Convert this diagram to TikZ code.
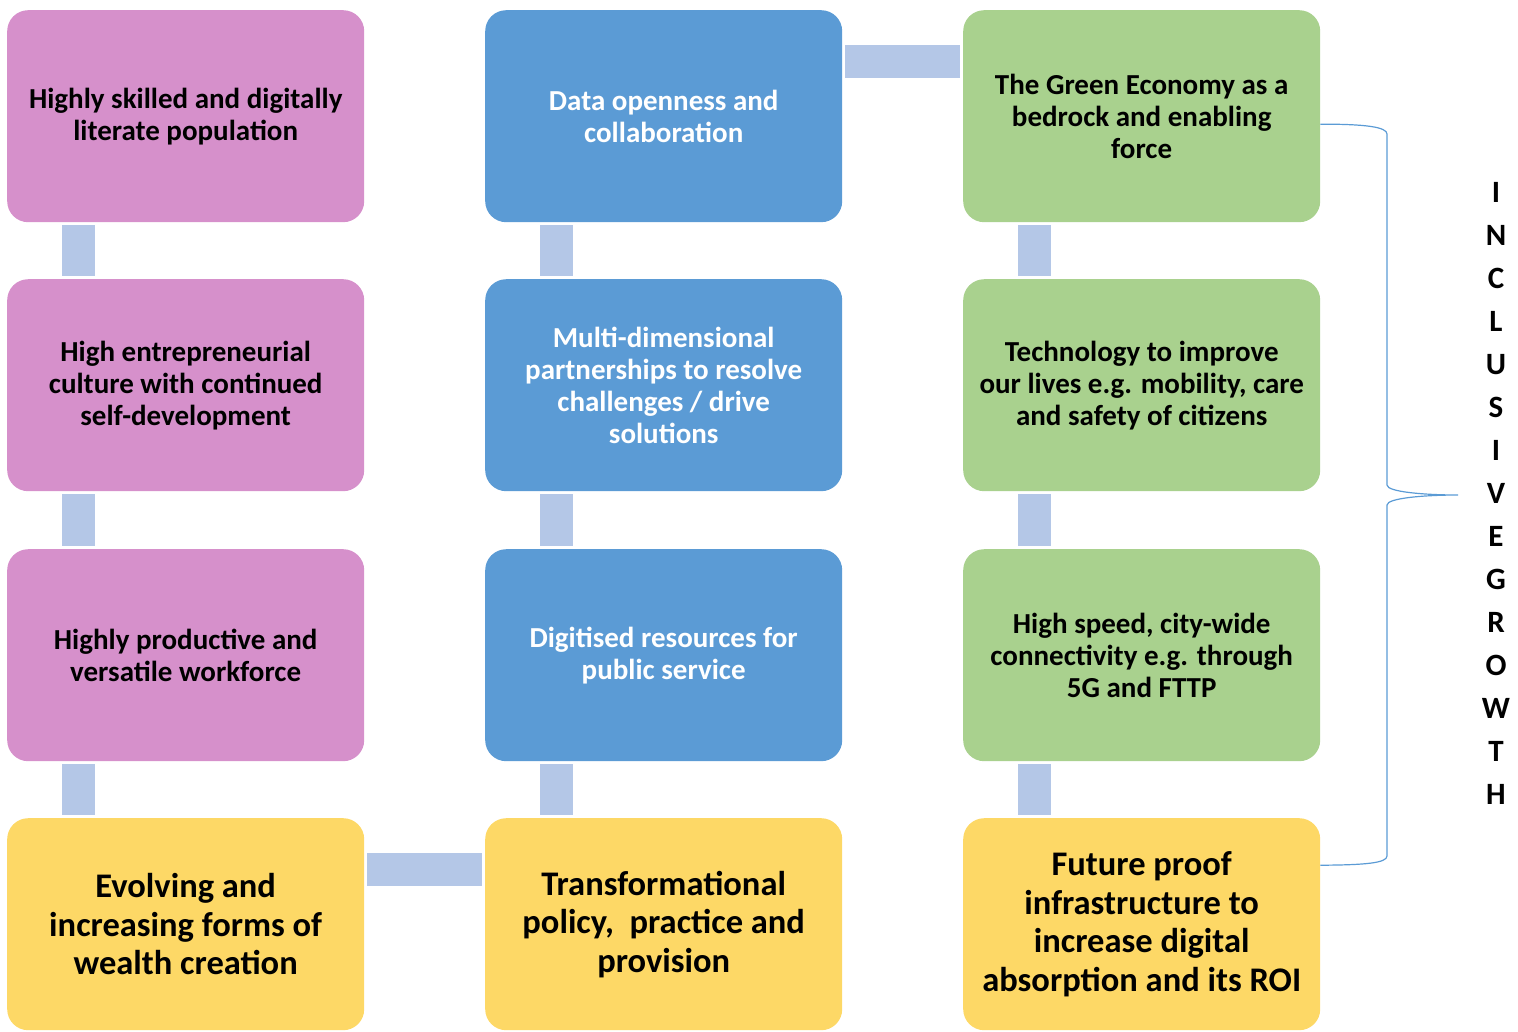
\documentclass[tikz,border=0pt]{standalone}
\usepackage{fontspec}
\setmainfont{Carlito}
\usetikzlibrary{calc}
\definecolor{pinkc}{HTML}{D690CB}
\definecolor{bluec}{HTML}{5B9BD5}
\definecolor{greenc}{HTML}{A9D18E}
\definecolor{yellowc}{HTML}{FDD866}
\definecolor{connc}{HTML}{B4C7E7}
\definecolor{bracec}{HTML}{5B9BD5}
\begin{document}
\begin{tikzpicture}[x=1pt,y=-1pt,
  box/.style={rounded corners=21pt, minimum width=357pt, minimum height=212pt,
    inner sep=0pt, align=center, anchor=north west,
    font=\fontsize{29}{32}\selectfont\bfseries},
  pinkbox/.style={box, fill=pinkc, text=black},
  bluebox/.style={box, fill=bluec, text=white},
  greenbox/.style={box, fill=greenc, text=black},
  yellowbox/.style={box, fill=yellowc, text=black, font=\fontsize{34.5}{38.5}\selectfont\bfseries},
  conn/.style={draw=connc, line width=33pt, shorten <=3pt, shorten >=3pt},
  bracel/.style={draw=bracec, line width=1.2pt}]
\useasboundingbox (0,0) rectangle (1518,1031);
% column 1
\node[pinkbox] (p1) at (7,10) {Highly skilled and digitally\\literate population};
\node[pinkbox] (p2) at (7,279) {High entrepreneurial\\culture with continued\\self-development};
\node[pinkbox] (p3) at (7,549) {Highly productive and\\versatile workforce};
\node[yellowbox] (y1) at (7,818) {Evolving and\\increasing forms of\\wealth creation};
% column 2
\node[bluebox] (b1) at (485,10) {Data openness and\\collaboration};
\node[bluebox] (b2) at (485,279) {Multi-dimensional\\partnerships to resolve\\challenges / drive\\solutions};
\node[bluebox] (b3) at (485,549) {Digitised resources for\\public service};
\node[yellowbox] (y2) at (485,818) {Transformational\\policy,~ practice and\\provision};
% column 3
\node[greenbox] (g1) at (963,10) {The Green Economy as a\\bedrock and enabling\\force};
\node[greenbox] (g2) at (963,279) {Technology to improve\\our lives e.g. mobility, care\\and safety of citizens};
\node[greenbox] (g3) at (963,549) {High speed, city-wide\\connectivity e.g. through\\5G and FTTP};
\node[yellowbox] (y3) at (963,818) {Future proof\\infrastructure to\\increase digital\\absorption and its ROI};
% vertical connectors
\foreach \a/\b in {p1/p2,p2/p3,p3/y1,b1/b2,b2/b3,b3/y2,g1/g2,g2/g3,g3/y3}{
  \draw[conn] ([xshift=71.5pt]\a.south west) -- ([xshift=71.5pt]\b.north west);
}
% horizontal connectors
\draw[conn] ([yshift=-51.5pt]b1.north east) -- ([yshift=-51.5pt]g1.north west);
\draw[conn] ([yshift=-51.5pt]y1.north east) -- ([yshift=-51.5pt]y2.north west);
% brace
\coordinate (bs) at ([yshift=-8pt]g1.east);
\coordinate (be) at ([yshift=59pt]y3.east);
\coordinate (tip) at (1458,495);
\draw[bracel] (bs) .. controls (1365,124) and (1387,127) .. (1387,134)
  -- (1387,485) .. controls (1387,492) and (1425,495) .. (tip)
  .. controls (1425,495) and (1387,498) .. (1387,505)
  -- (1387,856) .. controls (1387,863) and (1365,865) .. (be);
\node[font=\fontsize{31}{43}\selectfont\bfseries, align=center, inner sep=0pt, anchor=north]
  (ig) at (1496,182) {I\\N\\C\\L\\U\\S\\I\\V\\E\\G\\R\\O\\W\\T\\H};
\end{tikzpicture}
\end{document}
